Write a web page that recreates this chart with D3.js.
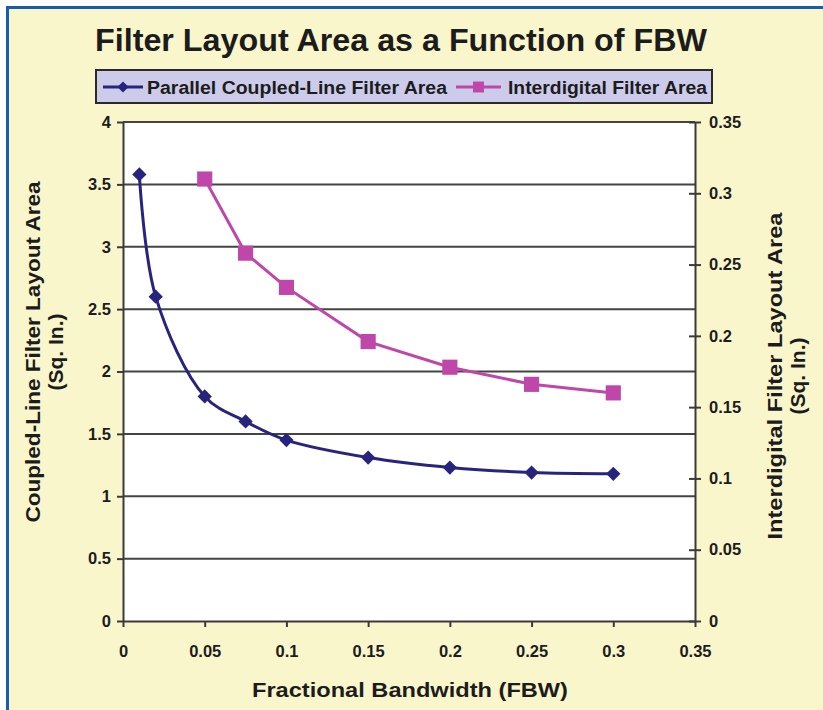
<!DOCTYPE html>
<html lang="en">
<head>
<meta charset="utf-8">
<title>Filter Layout Area as a Function of FBW</title>
<script src="https://d3js.org/d3.v7.min.js"></script>
<style>
  body { margin: 0; background: #fff; }
  text { font-family: "Liberation Sans", Arial, sans-serif; font-weight: bold; fill: #1c1c1c; }
</style>
</head>
<body>
<script>
// data
var coupledFbw = [0.01, 0.02, 0.05, 0.075, 0.1, 0.15, 0.2, 0.25, 0.3];
var coupledArea = [3.58, 2.6, 1.8, 1.6, 1.45, 1.31, 1.23, 1.19, 1.18];
var interFbw = [0.05, 0.075, 0.1, 0.15, 0.2, 0.25, 0.3];
var interArea = [0.31, 0.258, 0.234, 0.196, 0.178, 0.166, 0.16];
var xTicks = [0, 0.05, 0.1, 0.15, 0.2, 0.25, 0.3, 0.35];
var leftTicks = [0, 0.5, 1, 1.5, 2, 2.5, 3, 3.5, 4];
var rightTicks = [0, 0.05, 0.1, 0.15, 0.2, 0.25, 0.3, 0.35];
var seriesNames = ["Parallel Coupled-Line Filter Area", "Interdigital Filter Area"];

var w = 823, h = 710;
var pLeft = 123, pRight = 695, pTop = 122, pBottom = 621;
var navy = "#28247e", magenta = "#c047aa";

var svg = d3.select("body").append("svg").attr("width", w).attr("height", h);

// pale yellow panel with blue edge
svg.append("rect").attr("x", 7.5).attr("y", 7.5).attr("width", w + 10).attr("height", h + 10)
  .attr("fill", "#faf6cc").attr("stroke", "#1a5cab").attr("stroke-width", 3);

var x = d3.scaleLinear().domain([0, 0.35]).range([pLeft, pRight]);
var yL = d3.scaleLinear().domain([0, 4]).range([pBottom, pTop]);
var yR = d3.scaleLinear().domain([0, 0.35]).range([pBottom, pTop]);

svg.append("rect").attr("x", pLeft).attr("y", pTop).attr("width", pRight - pLeft).attr("height", pBottom - pTop)
  .attr("fill", "#fff");

// gridlines
svg.append("g").selectAll("line").data(leftTicks.slice(1)).enter().append("line")
  .attr("x1", pLeft).attr("x2", pRight)
  .attr("y1", function (d) { return yL(d); }).attr("y2", function (d) { return yL(d); })
  .attr("stroke", "#444").attr("stroke-width", 2);

function styleAxis(g) {
  g.select(".domain").attr("stroke", "#3a3a3a").attr("stroke-width", 2);
  g.selectAll(".tick line").attr("stroke", "#3a3a3a").attr("stroke-width", 2);
  g.selectAll(".tick text").style("font-size", "16.5px").attr("fill", "#1c1c1c");
}

var fmt = function (d) { return String(d); };

svg.append("g").attr("transform", "translate(" + pLeft + ",0)")
  .call(d3.axisLeft(yL).tickValues(leftTicks).tickFormat(fmt).tickSize(6).tickSizeOuter(0).tickPadding(6))
  .call(styleAxis);

var rAxis = svg.append("g").attr("transform", "translate(" + pRight + ",0)")
  .call(d3.axisRight(yR).tickValues(rightTicks).tickFormat(fmt).tickSize(6).tickSizeOuter(0).tickPadding(8))
  .call(styleAxis);
rAxis.selectAll(".tick line").attr("x1", -6);

svg.append("g").attr("transform", "translate(0," + pBottom + ")")
  .call(d3.axisBottom(x).tickValues(xTicks).tickFormat(fmt).tickSize(6).tickSizeOuter(0).tickPadding(18))
  .call(styleAxis);

// series
var coupled = coupledFbw.map(function (d, i) { return [d, coupledArea[i]]; });
var inter = interFbw.map(function (d, i) { return [d, interArea[i]]; });

svg.append("path").datum(coupled)
  .attr("fill", "none").attr("stroke", navy).attr("stroke-width", 3)
  .attr("d", d3.line().curve(d3.curveCatmullRom)
    .x(function (d) { return x(d[0]); }).y(function (d) { return yL(d[1]); }));

svg.append("path").datum(inter)
  .attr("fill", "none").attr("stroke", magenta).attr("stroke-width", 3)
  .attr("d", d3.line()
    .x(function (d) { return x(d[0]); }).y(function (d) { return yR(d[1]); }));

var diamond = d3.symbol().type(d3.symbolDiamond2).size(130);
var square = d3.symbol().type(d3.symbolSquare).size(230);

svg.append("g").selectAll("path").data(coupled).enter().append("path")
  .attr("d", diamond).attr("fill", navy)
  .attr("transform", function (d) { return "translate(" + x(d[0]) + "," + yL(d[1]) + ")"; });

svg.append("g").selectAll("path").data(inter).enter().append("path")
  .attr("d", square).attr("fill", magenta)
  .attr("transform", function (d) { return "translate(" + x(d[0]) + "," + yR(d[1]) + ")"; });

// title
svg.append("text").attr("x", 401).attr("y", 51).attr("text-anchor", "middle")
  .style("font-size", "31px").attr("fill", "#151515")
  .attr("textLength", 612).attr("lengthAdjust", "spacingAndGlyphs")
  .text("Filter Layout Area as a Function of FBW");

// legend
svg.append("rect").attr("x", 96).attr("y", 70).attr("width", 616).attr("height", 33)
  .attr("fill", "#cccbea").attr("stroke", "#2a2a2a").attr("stroke-width", 2);

var legendItems = [
  { name: seriesNames[0], color: navy, x0: 103, x1: 143, tx: 147, len: 300 },
  { name: seriesNames[1], color: magenta, x0: 456, x1: 501, tx: 508, len: 199 }
];
var lg = svg.append("g").selectAll("g").data(legendItems).enter().append("g");
lg.append("line").attr("x1", function (d) { return d.x0; }).attr("x2", function (d) { return d.x1; })
  .attr("y1", 87).attr("y2", 87).attr("stroke", function (d) { return d.color; }).attr("stroke-width", 3);
lg.append("path").attr("d", function (d, i) { return i ? d3.symbol().type(d3.symbolSquare).size(120)() : d3.symbol().type(d3.symbolDiamond2).size(80)(); })
  .attr("fill", function (d) { return d.color; })
  .attr("transform", function (d) { return "translate(" + (d.x0 + d.x1) / 2 + ",87)"; });
lg.append("text").attr("x", function (d) { return d.tx; }).attr("y", 93.5)
  .style("font-size", "17.5px")
  .attr("textLength", function (d) { return d.len; }).attr("lengthAdjust", "spacingAndGlyphs")
  .text(function (d) { return d.name; });

// axis titles
svg.append("text").attr("x", 410).attr("y", 697).attr("text-anchor", "middle")
  .style("font-size", "21px").attr("textLength", 316).attr("lengthAdjust", "spacingAndGlyphs")
  .text("Fractional Bandwidth (FBW)");

var lt = svg.append("g").attr("transform", "translate(0,352) rotate(-90)");
lt.append("text").attr("x", 0).attr("y", 40).attr("text-anchor", "middle")
  .style("font-size", "21px").attr("textLength", 341).attr("lengthAdjust", "spacingAndGlyphs")
  .text("Coupled-Line Filter Layout Area");
lt.append("text").attr("x", 0).attr("y", 63).attr("text-anchor", "middle")
  .style("font-size", "21px").text("(Sq. In.)");

var rt = svg.append("g").attr("transform", "translate(0,376) rotate(-90)");
rt.append("text").attr("x", 0).attr("y", 782).attr("text-anchor", "middle")
  .style("font-size", "21px").attr("textLength", 327).attr("lengthAdjust", "spacingAndGlyphs")
  .text("Interdigital Filter Layout Area");
rt.append("text").attr("x", 0).attr("y", 805).attr("text-anchor", "middle")
  .style("font-size", "21px").text("(Sq. In.)");
</script>
</body>
</html>
